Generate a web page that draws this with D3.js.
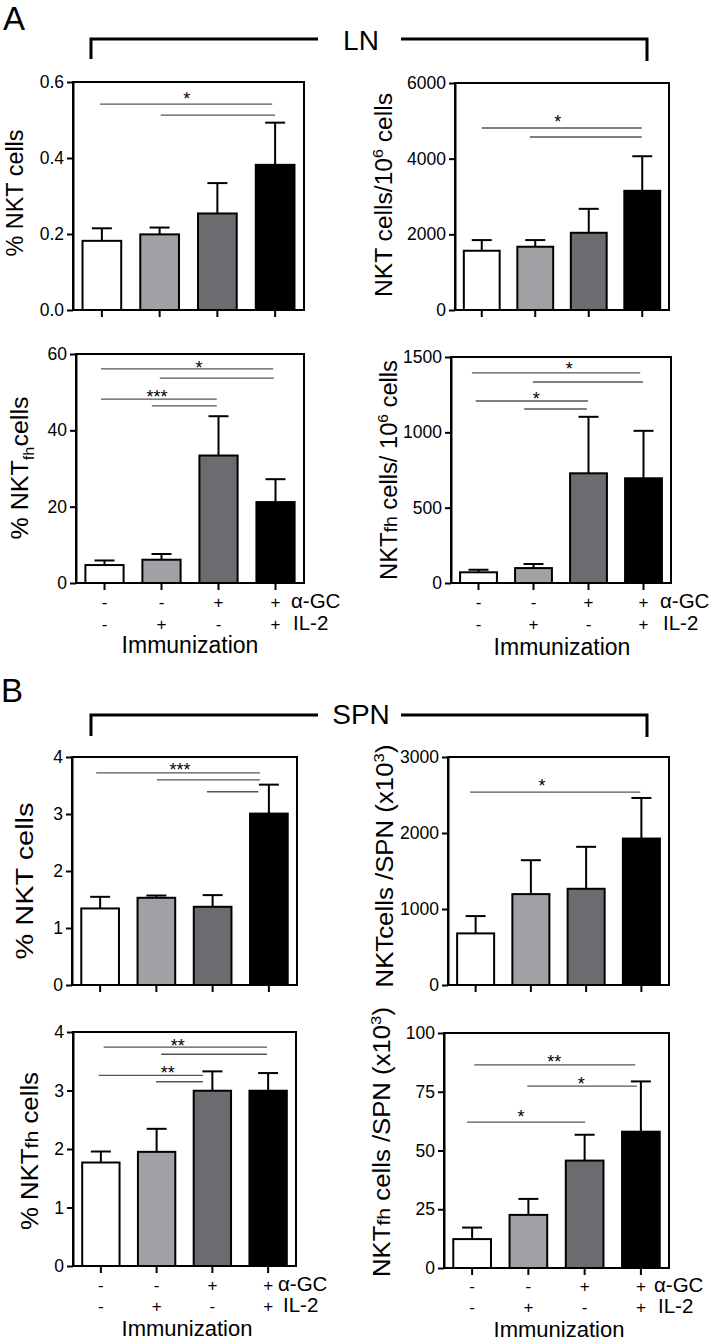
<!DOCTYPE html>
<html><head><meta charset="utf-8">
<script src="https://cdn.jsdelivr.net/npm/d3@7"></script>
<style>
body{margin:0;background:#fff}
svg{display:block}
text{font-family:"Liberation Sans",Arial,Helvetica,sans-serif;fill:#000}
</style>
</head><body>
<svg id="chart" width="714" height="1342"></svg>
<script>
// ---------------- DATA ----------------
const groups = ["aGC-/IL2-", "aGC-/IL2+", "aGC+/IL2-", "aGC+/IL2+"];
const alphaGCRow = ["-", "-", "+", "+"];
const il2Row = ["-", "+", "-", "+"];

// A: LN
const lnNktPctMean = [0.182, 0.199, 0.254, 0.382];
const lnNktPctErr  = [0.033, 0.018, 0.080, 0.111];
const lnNktCountMean = [1566, 1672, 2041, 3150];
const lnNktCountErr  = [282, 176, 633, 914];
const lnNktfhPctMean = [4.7, 6.1, 33.4, 21.2];
const lnNktfhPctErr  = [1.2, 1.5, 10.3, 6.0];
const lnNktfhCountMean = [71, 99, 728, 695];
const lnNktfhCountErr  = [17, 27, 375, 315];
// B: SPN
const spnNktPctMean = [1.343, 1.53, 1.372, 3.007];
const spnNktPctErr  = [0.204, 0.04, 0.205, 0.508];
const spnNktCountMean = [679, 1196, 1266, 1927];
const spnNktCountErr  = [228, 446, 552, 534];
const spnNktfhPctMean = [1.769, 1.951, 2.996, 2.996];
const spnNktfhPctErr  = [0.188, 0.394, 0.331, 0.302];
const spnNktfhCountMean = [12.3, 22.6, 45.7, 58.0];
const spnNktfhCountErr  = [4.9, 6.8, 11.0, 21.4];

// y tick values
const ticksLnNktPct = [0, 0.2, 0.4, 0.6];
const ticksLnNktCount = [0, 2000, 4000, 6000];
const ticksLnNktfhPct = [0, 20, 40, 60];
const ticksLnNktfhCount = [0, 500, 1000, 1500];
const ticksSpnNktPct = [0, 1, 2, 3, 4];
const ticksSpnNktCount = [0, 1000, 2000, 3000];
const ticksSpnNktfhPct = [0, 1, 2, 3, 4];
const ticksSpnNktfhCount = [0, 25, 50, 75, 100];

// significance comparisons: [from group, to group, level(value)], labels
const sigLnNktPct = {lines: [[-0.03, 2.95, 0.542], [1.02, 3.0, 0.513]], labels: [["*", 1.47, 0.566]]};
const sigLnNktCount = {lines: [[0.0, 2.99, 4811], [0.9, 2.99, 4573]], labels: [["*", 1.42, 5075]]};
const sigLnNktfhPct = {lines: [[-0.06, 2.96, 56.1], [0.97, 2.97, 53.7], [-0.06, 1.97, 48.2], [0.83, 1.97, 46.4]],
  labels: [["*", 1.66, 57.6], ["***", 0.92, 50.0]]};
const sigLnNktfhCount = {lines: [[-0.12, 2.94, 1394], [0.99, 2.99, 1334], [-0.05, 1.99, 1208], [0.83, 1.97, 1155]],
  labels: [["*", 1.65, 1447], ["*", 1.05, 1248]]};
const sigSpnNktPct = {lines: [[-0.07, 2.84, 3.72], [1.01, 2.84, 3.60], [1.9, 2.81, 3.39]], labels: [["***", 1.42, 3.84]]};
const sigSpnNktCount = {lines: [[-0.1, 2.98, 2539]], labels: [["*", 1.2, 2671]]};
const sigSpnNktfhPct = {lines: [[0.05, 2.98, 3.74], [1.08, 2.98, 3.62], [-0.04, 1.83, 3.26], [0.99, 1.83, 3.15]],
  labels: [["**", 1.38, 3.83], ["**", 1.2, 3.38]]};
const sigSpnNktfhCount = {lines: [[0.04, 2.9, 86.4], [0.98, 2.93, 77.4], [-0.09, 2.01, 62.1]],
  labels: [["**", 1.46, 89.4], ["*", 1.94, 80], ["*", 0.87, 66]]};

// ---------------- STYLE / LAYOUT ----------------
const barFill = ["#ffffff", "#a0a1a5", "#6b6c70", "#000000"];
const panels = [
  {mean: lnNktPctMean, err: lnNktPctErr, ticks: ticksLnNktPct, fmt: ".1f", sig: sigLnNktPct,
   box: [73, 304, 82, 310], label: [{t: "% NKT cells"}], lab: [23, 193, 127]},
  {mean: lnNktCountMean, err: lnNktCountErr, ticks: ticksLnNktCount, fmt: "d", sig: sigLnNktCount,
   box: [455, 669, 83, 310], label: [{t: "NKT cells/10"}, {t: "6", k: "sup"}, {t: " cells"}], lab: [392, 195, 204]},
  {mean: lnNktfhPctMean, err: lnNktfhPctErr, ticks: ticksLnNktfhPct, fmt: "d", sig: sigLnNktfhPct,
   box: [76, 304, 354, 583], label: [{t: "% NKT"}, {t: "fh", k: "sub"}, {t: "cells"}], lab: [28, 468, 143],
   xl: {r1: 608, r2: 630, gx: 291, ix: 293, im: [190, 653], fs: 23}},
  {mean: lnNktfhCountMean, err: lnNktfhCountErr, ticks: ticksLnNktfhCount, fmt: "d", sig: sigLnNktfhCount,
   box: [451, 671, 357, 583], label: [{t: "NKT"}, {t: "fh", k: "small"}, {t: " cells/ 10"}, {t: "6", k: "sup"}, {t: " cells"}], lab: [397, 470, 220],
   xl: {r1: 608, r2: 630, gx: 660, ix: 663, im: [562, 655], fs: 23}},
  {mean: spnNktPctMean, err: spnNktPctErr, ticks: ticksSpnNktPct, fmt: "d", sig: sigSpnNktPct,
   box: [72, 297, 757, 985], label: [{t: "% NKT cells"}], lab: [33, 881, 157]},
  {mean: spnNktCountMean, err: spnNktCountErr, ticks: ticksSpnNktCount, fmt: "d", sig: sigSpnNktCount,
   box: [448, 669, 757, 985], label: [{t: "NKTcells /SPN (x10"}, {t: "3", k: "sup"}, {t: ")"}], lab: [393, 866, 243]},
  {mean: spnNktfhPctMean, err: spnNktfhPctErr, ticks: ticksSpnNktfhPct, fmt: "d", sig: sigSpnNktfhPct,
   box: [73, 296, 1032, 1266], label: [{t: "% NKT"}, {t: "fh", k: "small"}, {t: " cells"}], lab: [38, 1151, 158],
   xl: {r1: 1291, r2: 1312, gx: 278, ix: 283, im: [187, 1336], fs: 22}},
  {mean: spnNktfhCountMean, err: spnNktfhCountErr, ticks: ticksSpnNktfhCount, fmt: "d", sig: sigSpnNktfhCount,
   box: [444, 669, 1033, 1268], label: [{t: "NKT"}, {t: "fh", k: "small"}, {t: " cells /SPN (x10"}, {t: "3", k: "sup"}, {t: ")"}], lab: [390, 1142, 270],
   xl: {r1: 1292, r2: 1313, gx: 654, ix: 658, im: [559, 1337], fs: 22}}
];

const svg = d3.select("#chart");

function drawPanel(p) {
  const [x0, x1, y0, y1] = p.box;
  const g = svg.append("g");
  const x = d3.scaleBand().domain(groups).range([x0, x1]).paddingInner(0.33).paddingOuter(0.165);
  const y = d3.scaleLinear().domain([0, p.ticks[p.ticks.length - 1]]).range([y1, y0]);
  const cx = f => x(groups[0]) + x.bandwidth() / 2 + f * x.step();

  // significance lines
  g.selectAll("line.sig").data(p.sig.lines).join("line")
    .attr("x1", d => cx(d[0])).attr("x2", d => cx(d[1]))
    .attr("y1", d => y(d[2])).attr("y2", d => y(d[2]))
    .attr("stroke", "#555").attr("stroke-width", 1.3);
  g.selectAll("text.sig").data(p.sig.labels).join("text")
    .attr("x", d => cx(d[1])).attr("y", d => y(d[2]) + 0.575 * 18)
    .attr("text-anchor", "middle").attr("font-size", 18).text(d => d[0]);

  // error bars
  const eb = g.selectAll("g.eb").data(groups).join("g");
  eb.append("line")
    .attr("x1", (d, i) => x(d) + x.bandwidth() / 2).attr("x2", (d, i) => x(d) + x.bandwidth() / 2)
    .attr("y1", (d, i) => y(p.mean[i])).attr("y2", (d, i) => y(p.mean[i] + p.err[i]))
    .attr("stroke", "#000").attr("stroke-width", 2);
  eb.append("line")
    .attr("x1", (d, i) => x(d) + x.bandwidth() / 2 - 10).attr("x2", (d, i) => x(d) + x.bandwidth() / 2 + 10)
    .attr("y1", (d, i) => y(p.mean[i] + p.err[i])).attr("y2", (d, i) => y(p.mean[i] + p.err[i]))
    .attr("stroke", "#000").attr("stroke-width", 2);

  // bars
  g.selectAll("rect.bar").data(groups).join("rect")
    .attr("x", d => x(d)).attr("width", x.bandwidth())
    .attr("y", (d, i) => y(p.mean[i])).attr("height", (d, i) => y(0) - y(p.mean[i]))
    .attr("fill", (d, i) => barFill[i]).attr("stroke", "#000").attr("stroke-width", 2);

  // frame
  g.append("rect").attr("x", x0).attr("y", y0).attr("width", x1 - x0).attr("height", y1 - y0)
    .attr("fill", "none").attr("stroke", "#000").attr("stroke-width", 2);

  // y axis
  const ya = g.append("g").attr("transform", `translate(${x0},0)`)
    .call(d3.axisLeft(y).tickValues(p.ticks).tickFormat(d3.format(p.fmt)).tickSize(6).tickSizeOuter(0).tickPadding(3));
  ya.attr("font-family", null).attr("font-size", null);
  ya.select(".domain").attr("stroke-width", 2);
  ya.selectAll(".tick line").attr("stroke-width", 2);
  ya.selectAll(".tick text").attr("font-size", 17.5);

  // x axis (ticks only)
  const xa = g.append("g").attr("transform", `translate(0,${y1})`)
    .call(d3.axisBottom(x).tickSize(7).tickSizeOuter(0).tickFormat(""));
  xa.select(".domain").remove();
  xa.selectAll(".tick line").attr("stroke-width", 2);

  // y label
  const [bx, cy, len] = p.lab;
  const t = g.append("text").attr("transform", `translate(${bx},${cy}) rotate(-90)`)
    .attr("text-anchor", "middle").attr("font-size", 23)
    .attr("textLength", len).attr("lengthAdjust", "spacingAndGlyphs");
  let off = 0;
  p.label.forEach(part => {
    let target = 0, fs = 23;
    if (part.k === "sup") { target = -9; fs = 15; }
    else if (part.k === "sub") { target = 6; fs = 15; }
    else if (part.k === "small") { target = 0; fs = 19; }
    t.append("tspan").attr("dy", target - off).attr("font-size", fs).text(part.t);
    off = target;
  });

  // x labels
  if (p.xl) {
    const xl = p.xl;
    g.selectAll("text.r1").data(groups).join("text")
      .attr("x", d => x(d) + x.bandwidth() / 2).attr("y", xl.r1)
      .attr("text-anchor", "middle").attr("font-size", 17).text((d, i) => alphaGCRow[i]);
    g.selectAll("text.r2").data(groups).join("text")
      .attr("x", d => x(d) + x.bandwidth() / 2).attr("y", xl.r2)
      .attr("text-anchor", "middle").attr("font-size", 17).text((d, i) => il2Row[i]);
    g.append("text").attr("x", xl.gx).attr("y", xl.r1).attr("font-size", 20.5).text("α-GC");
    g.append("text").attr("x", xl.ix).attr("y", xl.r2).attr("font-size", 20.5).text("IL-2");
    g.append("text").attr("x", xl.im[0]).attr("y", xl.im[1]).attr("text-anchor", "middle")
      .attr("font-size", xl.fs).text("Immunization");
  }
}
panels.forEach(drawPanel);

// section brackets and letters
function bracket(yTop, yL, yR, label, labelY) {
  const path = `M91,${yL}V${yTop}H318 M401,${yTop}H647V${yR}`;
  svg.append("path").attr("d", path).attr("fill", "none").attr("stroke", "#000").attr("stroke-width", 3);
  svg.append("text").attr("x", 361).attr("y", labelY).attr("text-anchor", "middle")
    .attr("font-size", 28).text(label);
}
bracket(39, 59, 61, "LN", 50);
bracket(715, 736, 737, "SPN", 724);
svg.append("text").attr("x", 3).attr("y", 30).attr("font-size", 33).text("A");
svg.append("text").attr("x", 1).attr("y", 702).attr("font-size", 33).text("B");
</script>
</body></html>
